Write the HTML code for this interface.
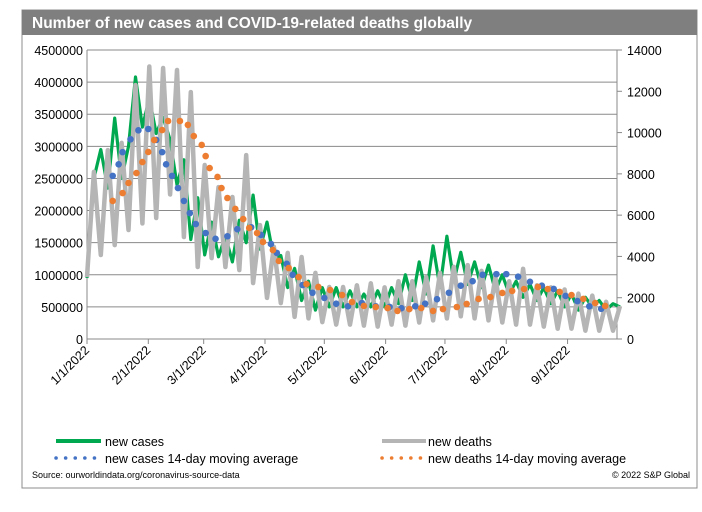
<!DOCTYPE html>
<html><head><meta charset="utf-8"><style>
body{margin:0;background:#fff;width:702px;height:507px;overflow:hidden;font-family:"Liberation Sans",Arial,sans-serif}
</style></head><body>
<svg id="c" width="702" height="507" xmlns="http://www.w3.org/2000/svg">
<rect x="22" y="10" width="675" height="478" fill="#fff" stroke="#8c8c8c" stroke-width="1"/>
<rect x="22" y="10" width="675" height="25" fill="#7f7f7f"/>
<text x="32" y="28" fill="#fff" font-size="15.5" font-weight="bold">Number of new cases  and COVID-19-related deaths globally</text>
<g id="grid"></g>
<g id="axes"></g>
<g id="series"></g>
<g font-size="12.5" fill="#000">
<line x1="56" y1="441" x2="101" y2="441" stroke="#00a84f" stroke-width="4"/>
<text x="105" y="446">new cases</text>
<line x1="382" y1="441" x2="426" y2="441" stroke="#b5b5b5" stroke-width="4"/>
<text x="428" y="446">new deaths</text>
<line x1="56" y1="458" x2="101" y2="458" stroke="#4472c4" stroke-width="3.5" stroke-dasharray="0.1 9.5" stroke-linecap="round"/>
<text x="105" y="463">new cases 14-day moving average</text>
<line x1="382" y1="458" x2="426" y2="458" stroke="#ed7d31" stroke-width="3.5" stroke-dasharray="0.1 9.5" stroke-linecap="round"/>
<text x="428" y="463">new deaths 14-day moving average</text>
</g>
<text x="32" y="478" font-size="9" fill="#000">Source: ourworldindata.org/coronavirus-source-data</text>
<text x="690" y="478" font-size="9" fill="#000" text-anchor="end">© 2022 S&amp;P Global</text>
</svg>
<script>
const leftTicks=[0,500000,1000000,1500000,2000000,2500000,3000000,3500000,4000000,4500000];
const rightTicks=[0,2000,4000,6000,8000,10000,12000,14000];
const monthLabels=["1/1/2022","2/1/2022","3/1/2022","4/1/2022","5/1/2022","6/1/2022","7/1/2022","8/1/2022","9/1/2022"];
const monthDays=[0,31,59,90,120,151,181,212,243];
const sampleStep=3.5;
const cases=[950,2500,2950,2350,3440,2500,3000,4080,3300,3750,3200,3450,3100,2400,2790,1550,2200,1310,1820,1280,1600,1200,1850,1500,2240,1400,1820,1250,1300,800,1100,600,900,450,800,500,800,500,750,500,700,500,750,500,800,550,1000,600,1200,700,1450,800,1600,900,1350,850,1200,800,1150,750,1000,700,900,650,850,600,800,550,750,500,700,450,650,500,600,450,550,500].map(v=>v*1000);
const deaths=[3000,8100,4070,9150,4550,9500,5280,12300,5600,13200,5860,13130,7000,13030,4940,11960,3490,8430,3920,7360,3490,6880,3340,8910,2710,5520,1990,4460,1740,4170,1070,3970,1000,3200,820,2520,700,2520,700,2600,650,2700,600,2500,700,2800,650,2800,800,3000,900,3200,1000,3500,1100,3580,1000,3300,900,3000,800,2800,700,3400,700,2600,600,2500,500,2400,500,2200,400,2100,400,1800,400,1600];
const caseMADays=[13,16,18,22,26,31,35,38,40,43,46,49,52,55,60,65,71,76,83,88,93,96,101,104,109,114,120,126,132,139,146,153,159,166,171,177,183,189,195,200,207,212,218,224,230,236,242,248,254,260];
const caseMA=[2.54,2.72,2.91,3.11,3.25,3.27,3.10,2.91,2.72,2.54,2.35,2.15,1.96,1.79,1.65,1.56,1.60,1.71,1.74,1.62,1.48,1.34,1.17,1.0,0.84,0.72,0.64,0.55,0.51,0.56,0.51,0.50,0.48,0.51,0.55,0.62,0.72,0.83,0.90,1.0,1.01,1.01,0.97,0.89,0.83,0.78,0.67,0.59,0.51,0.47].map(v=>v*1e6);
const deathMADays=[13,18,21,25,28,31,34,38,41,47,51,54,58,60,62,66,68,71,75,79,82,86,89,94,97,102,107,111,117,123,129,134,140,146,152,157,163,169,175,180,187,192,198,204,210,215,221,228,233,239,245,251,257,262];
const deathMA=[6690,7070,7560,8040,8570,9060,9640,10120,10560,10560,10370,9830,9400,8860,8280,7850,7310,6830,6300,5810,5380,5130,4700,4310,3780,3440,3000,2660,2520,2370,2130,1790,1600,1550,1500,1360,1450,1500,1360,1450,1550,1700,1940,2030,2230,2330,2420,2520,2420,2280,2130,1940,1740,1600];

const X0=87,X1=617,Y0=339,Y1=50,DMAX=268;
const ns="http://www.w3.org/2000/svg";
const xS=d=>X0+d/DMAX*(X1-X0);
const yL=v=>Y0-v/4500000*(Y0-Y1);
const yR=v=>Y0-v/14000*(Y0-Y1);
function mk(tag,attrs,parent){const e=document.createElementNS(ns,tag);for(const k in attrs)e.setAttribute(k,attrs[k]);parent.appendChild(e);return e;}
const grid=document.getElementById('grid'),axes=document.getElementById('axes'),ser=document.getElementById('series');
leftTicks.forEach(t=>{
  const y=yL(t);
  if(t>0){const g=mk('line',{x1:X0,x2:X1,y1:y,y2:y,stroke:'#8a8a8a','stroke-width':1},grid);
  
  }
  const tx=mk('text',{x:X0-4,y:y+5,'text-anchor':'end','font-size':'12.5',fill:'#000'},axes);
  tx.textContent=t;
  
  
});
rightTicks.forEach(t=>{
  const y=yR(t);
  const l=mk('line',{x1:X1,x2:X1+5,y1:y,y2:y,stroke:'#8a8a8a'},axes);
  
  
  const tx=mk('text',{x:X1+10,y:y+5,'font-size':'12.5',fill:'#000'},axes);
  tx.textContent=t;
  
  
});
let a=mk('line',{x1:X0,x2:X0,y1:Y1,y2:Y0,stroke:'#8a8a8a'},axes);


a=mk('line',{x1:X1,x2:X1,y1:Y1,y2:Y0,stroke:'#8a8a8a'},axes);


a=mk('line',{x1:X0,x2:X1,y1:Y0,y2:Y0,stroke:'#8a8a8a'},axes);


monthDays.forEach((d,i)=>{
  const x=xS(d);
  const l=mk('line',{x1:x,x2:x,y1:Y0,y2:Y0+5,stroke:'#8a8a8a'},axes);
  
  
  const tx=mk('text',{x:x+3,y:Y0+12,'text-anchor':'end','font-size':'12.5',fill:'#000',transform:`rotate(-45 ${x+3} ${Y0+12})`},axes);
  tx.textContent=monthLabels[i];
  
  
});
function path(vals,ys,color,w,name){
  const d=vals.map((v,i)=>(i?'L':'M')+xS(i*sampleStep).toFixed(1)+' '+ys(v).toFixed(1)).join(' ');
  const p=mk('path',{d:d,fill:'none',stroke:color,'stroke-width':w,'stroke-linejoin':'round'},ser);
  
  
}
path(cases,yL,'#00a84f',3.2,'new-cases-line');
path(deaths,yR,'#b5b5b5',4.5,'new-deaths-line');
caseMADays.forEach((d,i)=>{
  const c=mk('circle',{cx:xS(d),cy:yL(caseMA[i]),r:3.3,fill:'#4472c4'},ser);
  
  
});
deathMADays.forEach((d,i)=>{
  const c=mk('circle',{cx:xS(d),cy:yR(deathMA[i]),r:3.3,fill:'#ed7d31'},ser);
  
  
});
</script>
</body></html>
